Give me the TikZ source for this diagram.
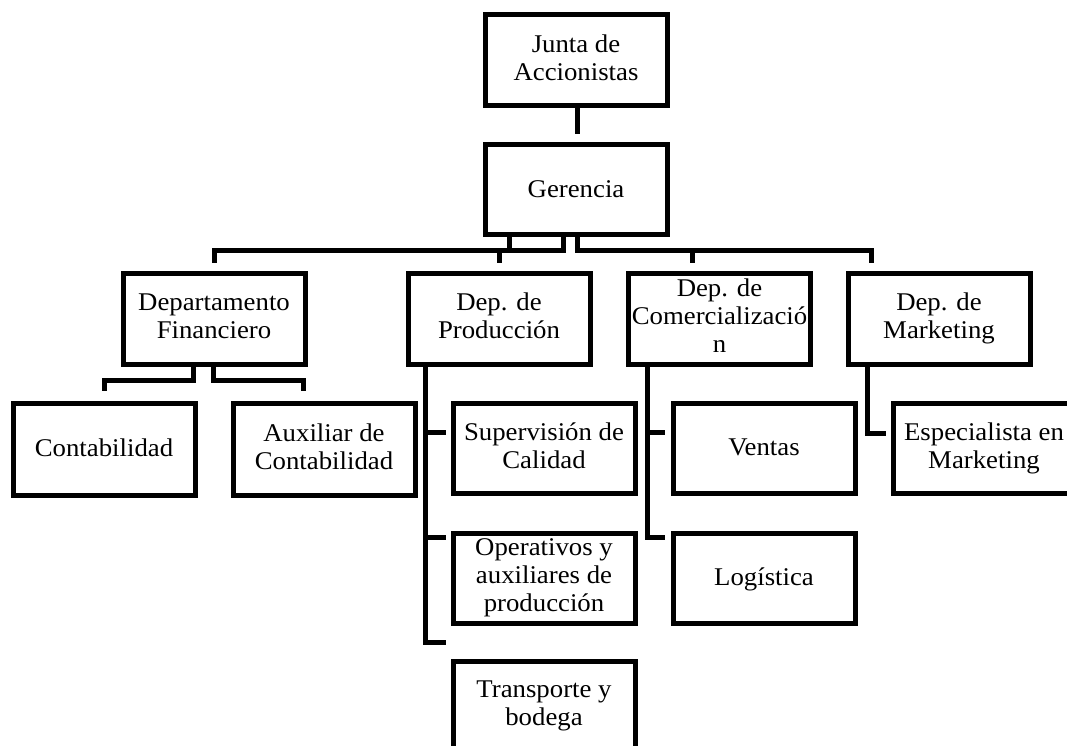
\documentclass[tikz,border=0pt]{standalone}
\usepackage{fontspec}
\setmainfont[FakeStretch=1.05]{Liberation Serif}
\usetikzlibrary{calc}
% strut that fixes the vertical placement of the text lines inside the boxes
\newcommand\boxstrut{\rule[-5pt]{0pt}{25pt}}
\begin{document}
\begin{tikzpicture}[x=1pt,y=-1pt,
  box/.style={draw, line width=5pt, minimum width=182pt, minimum height=90pt,
    inner sep=0pt, align=center, font=\fontsize{25.5}{28}\selectfont,
    execute at begin node=\boxstrut, execute at end node=\boxstrut},
  conn/.style={line width=5pt}]
\useasboundingbox (0,0) rectangle (1067,746);
\fill[white] (0,0) rectangle (1067,746);

% top of the chart
\node[box, minimum height=91pt] (junta) at (576,60.5) {Junta de\\Accionistas};
\node[box, minimum height=89pt] (ger) at (576,189.5) {Gerencia};

% departments
\node[box, minimum height=91pt] (fin) at (214,319) {Departamento\\Financiero};
\node[box, minimum height=91pt] (prod) at (499,318.5) {Dep. de\\Producción};
\node[box, minimum height=91pt] (com) at (719.5,318.5) {Dep. de\\Comercializació\\n};
\node[box, minimum height=91pt] (mkt) at (939,318.5) {Dep. de\\Marketing};

% units
\node[box, minimum height=92pt] (cont) at (104,449) {Contabilidad};
\node[box, minimum height=92pt] (aux) at (324,449) {Auxiliar de\\Contabilidad};
\node[box] (sup) at (544,448) {Supervisión de\\Calidad};
\node[box] (ven) at (764,448) {Ventas};
\node[box] (esp) at (984,448) {Especialista en\\Marketing};
\node[box] (op) at (544,578) {Operativos y\\auxiliares de\\producción};
\node[box] (log) at (764,578) {Logística};
\node[box] (tra) at (544,706) {Transporte y\\bodega};

% bus levels
\coordinate (busA) at (0,250);
\coordinate (busB) at (0,380);

% Junta -> Gerencia
\draw[conn, shorten >=8pt] ([xshift=1pt]junta.south) -- ([xshift=1pt]ger.north);

% Gerencia -> departments
\draw[conn, shorten >=8pt] ([xshift=-67pt]ger.south) -- ([xshift=-67pt]ger.south |- busA) -| (fin.north);
\draw[conn, shorten >=8pt] ([xshift=-13pt]ger.south) -- ([xshift=-13pt]ger.south |- busA) -| (prod.north);
\draw[conn, shorten >=8pt] ([xshift=1pt]ger.south) -- ([xshift=1pt]ger.south |- busA) -| ([xshift=-27.5pt]com.north);
\draw[conn, shorten >=8pt] ([xshift=1pt]ger.south) -- ([xshift=1pt]ger.south |- busA) -| ([xshift=-68pt]mkt.north);

% Financiero -> units
\draw[conn, shorten >=10pt] ([xshift=-21pt]fin.south) -- ([xshift=-21pt]fin.south |- busB) -| (cont.north);
\draw[conn, shorten >=10pt] ([xshift=-1pt]fin.south) -- ([xshift=-1pt]fin.south |- busB) -| ([xshift=-21pt]aux.north);

% Producción -> units
\draw[conn, shorten >=5pt] ([xshift=-74pt]prod.south) |- ([yshift=16pt]sup.west);
\draw[conn, shorten >=5pt] ([xshift=-74pt]prod.south) |- ([yshift=41pt]op.west);
\draw[conn, shorten >=5pt] ([xshift=-74pt]prod.south) |- ([yshift=64pt]tra.west);

% Comercialización -> units
\draw[conn, shorten >=6pt] ([xshift=-72.5pt]com.south) |- ([yshift=16pt]ven.west);
\draw[conn, shorten >=6pt] ([xshift=-72.5pt]com.south) |- ([yshift=41pt]log.west);

% Marketing -> unit
\draw[conn, shorten >=5pt] ([xshift=-72pt]mkt.south) |- ([yshift=15pt]esp.west);
\end{tikzpicture}
\end{document}
